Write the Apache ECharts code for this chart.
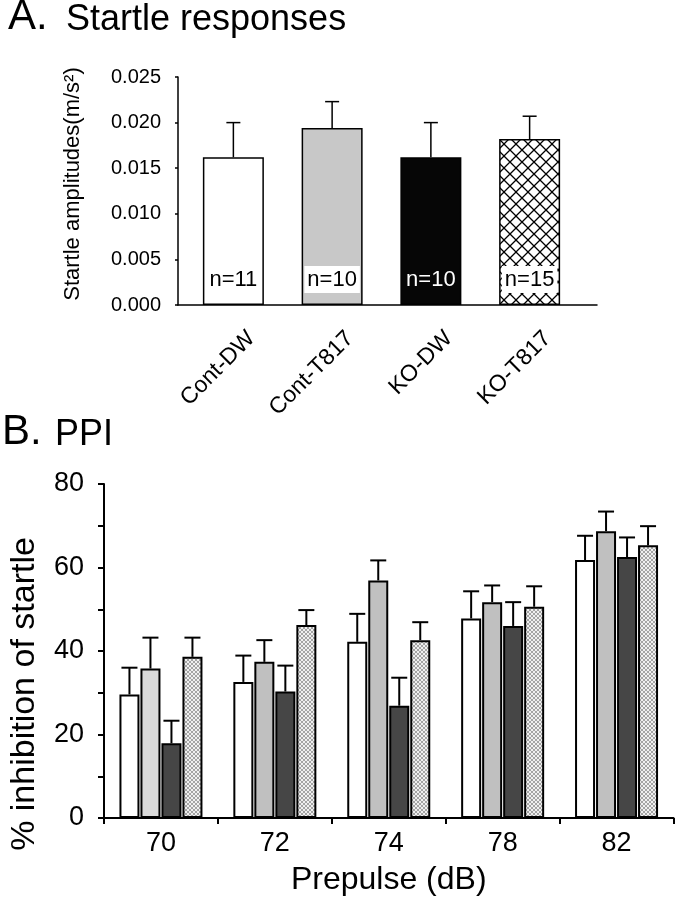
<!DOCTYPE html>
<html>
<head>
<meta charset="utf-8">
<script src="https://cdn.jsdelivr.net/npm/echarts@6/dist/echarts.min.js"></script>
<style>
html,body{margin:0;padding:0;background:#fff;}
#chart{width:676px;height:900px;}
</style>
</head>
<body>
<div id="chart"></div>
<script>
// ---------- Data ----------
const groupsA = ['Cont-DW', 'Cont-T817', 'KO-DW', 'KO-T817'];
const meanA = [0.0162, 0.0194, 0.0162, 0.0182];
const semA = [0.0038, 0.0029, 0.0038, 0.0025];
const nLabelsA = ['n=11', 'n=10', 'n=10', 'n=15'];
const yTicksA = [0, 0.005, 0.010, 0.015, 0.020, 0.025];

const prepulse = ['70', '72', '74', '78', '82'];
const ppiContDW = [29.6, 32.6, 42.2, 47.8, 61.8];
const ppiContDWErr = [6.4, 6.3, 6.7, 6.5, 5.8];
const ppiContT817 = [35.8, 37.4, 56.9, 51.7, 68.7];
const ppiContT817Err = [7.4, 5.2, 4.8, 4.0, 4.7];
const ppiKODW = [17.9, 30.3, 26.9, 46.0, 62.5];
const ppiKODWErr = [5.4, 6.2, 6.7, 5.7, 4.7];
const ppiKOT817 = [38.6, 46.2, 42.6, 50.6, 65.3];
const ppiKOT817Err = [4.6, 3.6, 4.3, 4.9, 4.6];
const yTicksB = [0, 20, 40, 60, 80];

// ---------- Patterns ----------
function diamondPattern() {
  const c = document.createElement('canvas');
  c.width = 12; c.height = 12;
  const g = c.getContext('2d');
  g.fillStyle = '#ffffff'; g.fillRect(0, 0, 12, 12);
  g.strokeStyle = '#000000'; g.lineWidth = 1.3;
  g.beginPath();
  g.moveTo(0, 0); g.lineTo(12, 12);
  g.moveTo(12, 0); g.lineTo(0, 12);
  g.stroke();
  return c;
}
function finePattern() {
  const c = document.createElement('canvas');
  c.width = 4; c.height = 4;
  const g = c.getContext('2d');
  g.fillStyle = '#efefef'; g.fillRect(0, 0, 4, 4);
  g.fillStyle = '#a4a4a4';
  [[0,0],[3,0],[1,1],[2,1],[1,2],[2,2],[0,3],[3,3]].forEach(p => g.fillRect(p[0], p[1], 1, 1));
  return c;
}
const diamondFill = { image: diamondPattern(), repeat: 'repeat' };
const fineFill = { image: finePattern(), repeat: 'repeat' };

const FONT = '"Liberation Sans", Arial, Helvetica, sans-serif';

// ---------- Styles for panel A ----------
const fillA = ['#ffffff', '#c8c8c8', '#060606', diamondFill];
const labelColorA = ['#000', '#000', '#fff', '#000'];
const labelBgA = ['transparent', '#ffffff', 'transparent', '#ffffff'];

const dataA = meanA.map((v, i) => ({
  value: v,
  itemStyle: { color: fillA[i] },
  label: { color: labelColorA[i], backgroundColor: labelBgA[i] }
}));

// ---------- Styles for panel B ----------
const seriesB = [
  { name: 'Cont-DW', mean: ppiContDW, err: ppiContDWErr, color: () => '#ffffff' },
  { name: 'Cont-T817', mean: ppiContT817, err: ppiContT817Err, color: (p) => p.dataIndex === 0 ? '#d9d9d9' : '#c0c0c0' },
  { name: 'KO-DW', mean: ppiKODW, err: ppiKODWErr, color: () => '#464646' },
  { name: 'KO-T817', mean: ppiKOT817, err: ppiKOT817Err, color: () => fineFill }
];
const BAR_W_B = 20, GAP_B = 0.05;
const pitchB = BAR_W_B * (1 + GAP_B);

function errRender(offset, capHalf, lw) {
  return function (params, api) {
    const x = api.value(0);
    const top = api.coord([x, api.value(1) + api.value(2)]);
    const base = api.coord([x, api.value(1)]);
    const cx = base[0] + offset;
    return {
      type: 'group',
      children: [
        { type: 'line', shape: { x1: cx, y1: base[1], x2: cx, y2: top[1] }, style: { stroke: '#000', lineWidth: lw } },
        { type: 'line', shape: { x1: cx - capHalf, y1: top[1], x2: cx + capHalf, y2: top[1] }, style: { stroke: '#000', lineWidth: lw } }
      ]
    };
  };
}

const series = [];
// Panel A bars
series.push({
  type: 'bar', xAxisIndex: 0, yAxisIndex: 0,
  data: dataA, barWidth: 61,
  itemStyle: { borderColor: '#000', borderWidth: 1.5 },
  label: {
    show: true, position: 'insideBottom', distance: 12,
    formatter: (p) => nLabelsA[p.dataIndex],
    fontFamily: FONT, fontSize: 22, padding: [3, 3, 2, 3]
  },
  z: 2
});
series.push({
  type: 'custom', xAxisIndex: 0, yAxisIndex: 0,
  data: meanA.map((v, i) => [i, v, semA[i]]),
  renderItem: errRender(0, 7, 1.5),
  z: 1
});
// Panel B bars + error bars
seriesB.forEach((s, k) => {
  series.push({
    type: 'bar', xAxisIndex: 1, yAxisIndex: 1, name: s.name,
    data: s.mean, barWidth: BAR_W_B, barGap: (GAP_B * 100) + '%',
    itemStyle: { color: s.color, borderColor: '#000', borderWidth: 2 },
    z: 2
  });
});
seriesB.forEach((s, k) => {
  series.push({
    type: 'custom', xAxisIndex: 1, yAxisIndex: 1,
    data: s.mean.map((v, i) => [i, v, s.err[i]]),
    renderItem: errRender((k - 1.5) * pitchB, 8, 2),
    z: 1
  });
});

const chart = echarts.init(document.getElementById('chart'), null, { renderer: 'canvas' });
chart.setOption({
  animation: false,
  backgroundColor: '#ffffff',
  textStyle: { fontFamily: FONT, color: '#000' },
  grid: [
    { left: 184, top: 77, width: 395, height: 228 },
    { left: 102, top: 484, width: 571.5, height: 334 },
    { left: 178, top: 77, width: 419, height: 228 }
  ],
  xAxis: [
    {
      type: 'category', gridIndex: 0, data: groupsA,
      axisLine: { show: false }, axisTick: { show: false },
      axisLabel: { rotate: 45, fontSize: 23, color: '#000', fontFamily: FONT, margin: 12, verticalAlign: 'top', padding: [14, 0, 0, 0] }
    },
    {
      type: 'category', gridIndex: 1, data: prepulse,
      axisLine: { lineStyle: { color: '#000', width: 2 } },
      axisTick: { show: true, length: 6, lineStyle: { color: '#000', width: 2 } },
      axisLabel: { fontSize: 27, color: '#000', fontFamily: FONT, margin: 12 },
      name: 'Prepulse (dB)', nameLocation: 'middle', nameGap: 46,
      nameTextStyle: { fontSize: 32, color: '#000', fontFamily: FONT }
    },
    {
      type: 'value', gridIndex: 2, min: 0, max: 1,
      axisLine: { show: true, lineStyle: { color: '#000', width: 1.5 } },
      axisTick: { show: false }, axisLabel: { show: false }, splitLine: { show: false }
    }
  ],
  yAxis: [
    {
      type: 'value', gridIndex: 0, min: 0, max: 0.025, interval: 0.005, offset: 6,
      axisLine: { show: true, lineStyle: { color: '#000', width: 1.5 } },
      axisTick: { show: true, length: 3, lineStyle: { color: '#000', width: 1.5 } },
      splitLine: { show: false },
      axisLabel: { fontSize: 20, color: '#000', fontFamily: FONT, margin: 17, formatter: (v) => v.toFixed(3) },
      name: 'Startle amplitudes(m/s\u00B2)', nameLocation: 'middle', nameGap: 94,
      nameTextStyle: { fontSize: 22, color: '#000', fontFamily: FONT, padding: [0, 0, 0, 14] }
    },
    {
      type: 'value', gridIndex: 1, min: 0, max: 80, interval: 10,
      axisLine: { show: true, lineStyle: { color: '#000', width: 2 } },
      axisTick: { show: true, length: 6, lineStyle: { color: '#000', width: 2 } },
      splitLine: { show: false },
      axisLabel: { fontSize: 27, color: '#000', fontFamily: FONT, margin: 20,
        formatter: (v) => (yTicksB.indexOf(v) >= 0 ? String(v) : '') },
      name: '% inhibition of startle', nameLocation: 'middle', nameGap: 62,
      nameTextStyle: { fontSize: 34, color: '#000', fontFamily: FONT, padding: [0, 86, 0, 0] }
    },
    { type: 'value', gridIndex: 2, show: false, min: 0, max: 1 }
  ],
  graphic: [
    { type: 'text', left: 8, top: -4, style: { text: 'A.', font: '42px ' + FONT, fill: '#000' } },
    { type: 'text', left: 66, top: 2, style: { text: 'Startle responses', font: '36px ' + FONT, fill: '#000' } },
    { type: 'text', left: 2, top: 411, style: { text: 'B.', font: '42px ' + FONT, fill: '#000' } },
    { type: 'text', left: 55, top: 417, style: { text: 'PPI', font: '36px ' + FONT, fill: '#000' } }
  ],
  series: series
});
</script>
</body>
</html>
